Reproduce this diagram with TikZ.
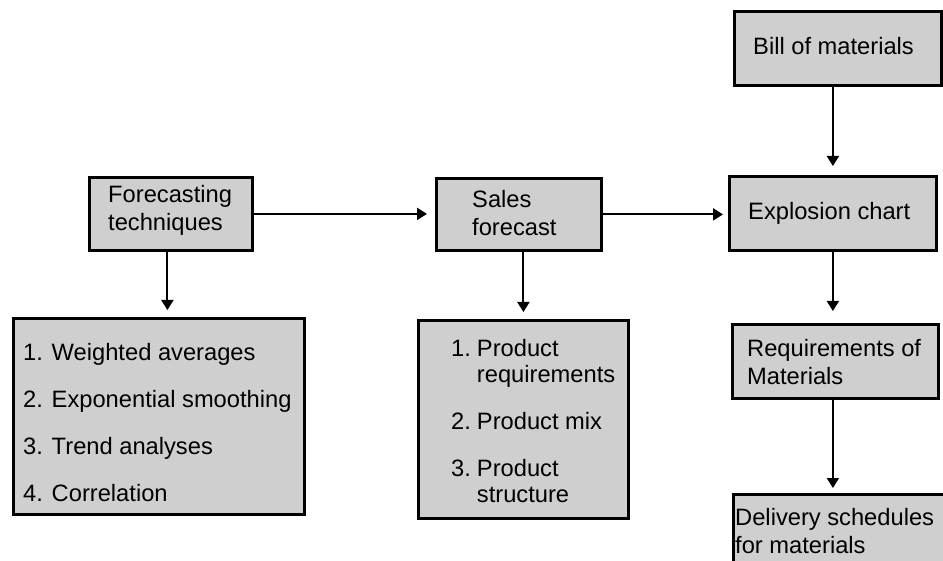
\documentclass[tikz,border=0pt]{standalone}
\usepackage{fontspec}
\setmainfont{Liberation Sans}
\usetikzlibrary{arrows.meta,calc}
\definecolor{boxgray}{RGB}{207,207,207}
\begin{document}
\begin{tikzpicture}[x=1pt,y=-1pt,
  box/.style={draw=black, line width=2.8pt, fill=boxgray, rectangle, inner sep=0pt, anchor=north west},
  txt/.style={align=left, inner sep=0pt, anchor=west, font=\fontsize{23.7}{28}\selectfont},
  arr/.style={line width=2pt, -{Triangle[length=10pt,width=12pt]}, shorten >=7pt}]
\useasboundingbox (0,0) rectangle (943,561);
\clip (0,0) rectangle (943,561);
\fill[white] (0,0) rectangle (943,561);

% boxes
\node[box, minimum width=207pt, minimum height=74pt] (bom) at (733,10) {};
\node[box, minimum width=207pt, minimum height=74pt] (exp) at (728,175) {};
\node[box, minimum width=206pt, minimum height=74pt] (req) at (731,323) {};
\node[box, minimum width=240pt, minimum height=100pt] (del) at (732,493) {};
\node[box, minimum width=163pt, minimum height=73pt] (ft) at (88,176) {};
\node[box, minimum width=165pt, minimum height=72pt] (sf) at (435,177) {};
\node[box, minimum width=291pt, minimum height=196pt] (fl) at (12,317) {};
\node[box, minimum width=210pt, minimum height=198pt] (pl) at (417,319) {};

% texts
\node[txt] (bomt) at ($(bom.west)+(20,-2)$) {Bill of materials};
\node[txt] (expt) at ($(exp.west)+(20,0)$) {Explosion chart};
\node[txt] (reqt) at ($(req.west)+(16,1)$) {Requirements of\\Materials};
\node[txt] (delt) at ($(del.north west)+(3,38)$) {Delivery schedules\\for materials};
\node[txt] (ftt) at ($(ft.west)+(20,-3.5)$) {Forecasting\\techniques};
\node[txt] (sft) at ($(sf.west)+(37,-1)$) {Sales\\forecast};
\node[txt, font=\fontsize{23.7}{26}\selectfont] (flt) at ($(fl.west)+(11,6)$)
  {1. Weighted averages\\[21pt]2. Exponential smoothing\\[21pt]3. Trend analyses\\[21pt]4. Correlation};
\node[txt, font=\fontsize{23.7}{26}\selectfont] (plt) at ($(pl.west)+(34,5)$)
  {\begin{tabular}{@{}l@{\hspace{6pt}}l@{}}1.&Product\\&requirements\\[21pt]2.&Product mix\\[21pt]3.&Product\\&structure\end{tabular}};

% connectors
\draw[arr, shorten >=9pt] (exp.north |- bom.south) -- (exp.north);
\draw[arr, shorten >=12pt] (exp.south) -- (exp.south |- req.north);
\draw[arr, shorten >=5pt] (exp.south |- req.south) -- (exp.south |- del.north);
\draw[arr] ($(ft.south)+(-3.5,0)$) -- ($(ft.south |- fl.north)+(-3.5,0)$);
\draw[arr] (pl.north |- sf.south) -- (pl.north);
\draw[arr, shorten >=8pt] (ft.east) -- (ft.east -| sf.west);
\draw[arr, shorten >=5pt] (sf.east) -- (sf.east -| exp.west);
\end{tikzpicture}
\end{document}
